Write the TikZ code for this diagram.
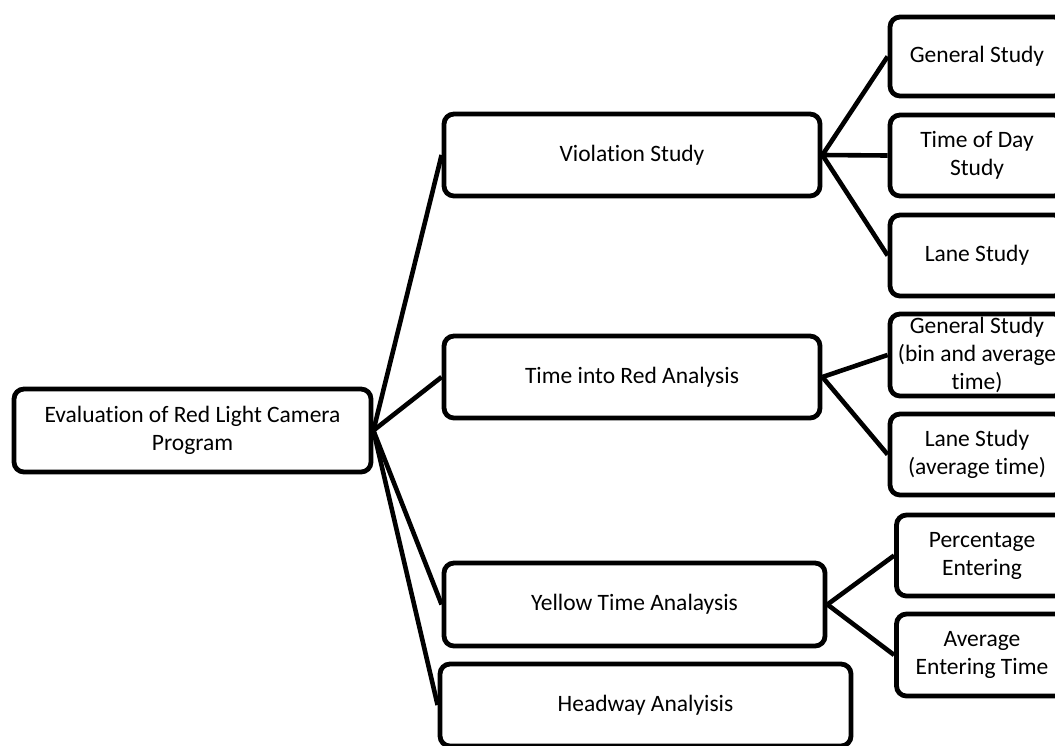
\documentclass[tikz,border=0pt]{standalone}
\usepackage{fontspec}
\setmainfont{Carlito}[Ligatures=NoCommon]
\begin{document}
\begin{tikzpicture}[x=1pt,y=-1pt,
  box/.style={draw, line width=4.8pt, rounded corners=10pt, align=center, inner sep=0pt,
    font=\fontsize{23.5}{28}\selectfont},
  link/.style={line width=4.6pt}]
\useasboundingbox (0,0) rectangle (1055,745);
% root
\node[box, minimum width=357pt, minimum height=83pt] (root) at (192.5,430.5) {Evaluation of Red Light Camera\\Program};
% level 1
\node[box, minimum width=376pt, minimum height=82pt] (vs) at (632,155) {Violation Study};
\node[box, minimum width=376pt, minimum height=82pt] (tr) at (632,377) {Time into Red Analysis};
\node[box, minimum width=381pt, minimum height=83pt] (yt) at (634.5,604.5) {Yellow Time Analaysis};
\node[box, minimum width=411pt, minimum height=82pt] (hw) at (645.5,705) {Headway Analyisis};
% level 2
\node[box, minimum width=174pt, minimum height=79pt] (gs1) at (977,56.5) {General Study};
\node[box, minimum width=174pt, minimum height=81pt] (td) at (977,155.5) {Time of Day\\Study};
\node[box, minimum width=174pt, minimum height=81pt] (ls1) at (977,255.5) {Lane Study};
\node[box, minimum width=174pt, minimum height=82pt] (gs2) at (977,355) {General Study\\(bin and average\\time)};
\node[box, minimum width=174pt, minimum height=81pt] (ls2) at (977,454.5) {Lane Study\\(average time)};
\node[box, minimum width=171pt, minimum height=81pt] (pe) at (982,555.5) {Percentage\\Entering};
\node[box, minimum width=171pt, minimum height=82pt] (ae) at (982,655) {Average\\Entering Time};
% connectors
\draw[link] (root.east) -- (vs.west);
\draw[link] (root.east) -- (tr.west);
\draw[link] (root.east) -- (yt.west);
\draw[link] (root.east) -- (hw.west);
\draw[link] (vs.east) -- (gs1.west);
\draw[link] (vs.east) -- (td.west);
\draw[link] (vs.east) -- (ls1.west);
\draw[link] (tr.east) -- (gs2.west);
\draw[link] (tr.east) -- (ls2.west);
\draw[link] (yt.east) -- (pe.west);
\draw[link] (yt.east) -- (ae.west);
\end{tikzpicture}
\end{document}
